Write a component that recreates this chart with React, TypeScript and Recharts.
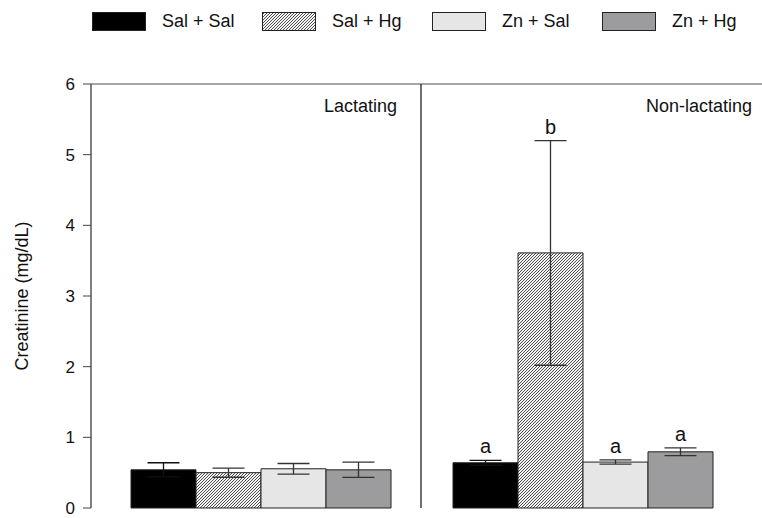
import React from "react";
import {
  BarChart,
  Bar,
  XAxis,
  YAxis,
  ErrorBar,
  LabelList,
  ReferenceLine,
} from "recharts";

const groups = ["Lactating", "Non-lactating"];
const seriesNames = ["Sal + Sal", "Sal + Hg", "Zn + Sal", "Zn + Hg"];

// mean creatinine (mg/dL) per group, with SEM
const salSalMean = [0.54, 0.64];
const salSalSem = [0.1, 0.035];
const salHgMean = [0.5, 3.61];
const salHgSem = [0.065, 1.59];
const znSalMean = [0.555, 0.65];
const znSalSem = [0.075, 0.03];
const znHgMean = [0.54, 0.795];
const znHgSem = [0.108, 0.055];

// significance letters (non-lactating only)
const salSalLetters = ["", "a"];
const salHgLetters = ["", "b"];
const znSalLetters = ["", "a"];
const znHgLetters = ["", "a"];

const yTicks = [0, 1, 2, 3, 4, 5, 6];

const FONT = "'Liberation Sans', Arial, sans-serif";

const data = groups.map((g, i) => ({
  group: g,
  idx: i,
  salSal: salSalMean[i],
  salSalErr: salSalSem[i],
  salHg: salHgMean[i],
  salHgErr: salHgSem[i],
  znSal: znSalMean[i],
  znSalErr: znSalSem[i],
  znHg: znHgMean[i],
  znHgErr: znHgSem[i],
}));

const series = [
  { key: "salSal", fill: "#000000", err: salSalSem, letters: salSalLetters, errColor: "#111" },
  { key: "salHg", fill: "url(#hatch)", err: salHgSem, letters: salHgLetters, errColor: "#333" },
  { key: "znSal", fill: "#e6e6e6", err: znSalSem, letters: znSalLetters, errColor: "#333" },
  { key: "znHg", fill: "#9c9b9d", err: znHgSem, letters: znHgLetters, errColor: "#333" },
];

// letter sits just above the upper error cap
function letterLabel(err: number[], letters: string[]) {
  return (props: any) => {
    const vb = props.viewBox || props;
    const x = vb.x ?? props.x;
    const y = vb.y ?? props.y;
    const w = vb.width ?? props.width;
    const h = vb.height ?? props.height;
    const index = props.index;
    const value = Number(props.value);
    const txt = letters[index];
    if (!txt || !value) return null;
    const perUnit = Math.abs(h) / value;
    const top = y - err[index] * perUnit;
    return (
      <text
        x={x + w / 2}
        y={top - 7}
        textAnchor="middle"
        fontFamily={FONT}
        fontSize={20}
        fill="#111"
      >
        {txt}
      </text>
    );
  };
}

function HatchPattern({ id }: { id: string }) {
  return (
    <pattern id={id} width="3" height="3" patternUnits="userSpaceOnUse">
      <rect width="3" height="3" fill="#f4f4f4" />
      <path
        d="M-0.75,0.75 l1.5,-1.5 M0,3 l3,-3 M2.25,3.75 l1.5,-1.5"
        stroke="#3a3a3a"
        strokeWidth={0.9}
      />
    </pattern>
  );
}

function Swatch({ fill }: { fill: string }) {
  return (
    <svg width={54} height={19} style={{ display: "block" }}>
      <defs>
        <HatchPattern id="hatchLegend" />
      </defs>
      <rect
        x={0.5}
        y={0.5}
        width={53}
        height={18}
        fill={fill === "url(#hatch)" ? "url(#hatchLegend)" : fill}
        stroke="#222"
        strokeWidth={1}
      />
    </svg>
  );
}

export default function App() {
  return (
    <div
      style={{
        position: "absolute",
        left: 0,
        top: 0,
        width: 762,
        height: 518,
        background: "#fff",
        fontFamily: FONT,
      }}
    >
      {/* legend */}
      <div style={{ position: "absolute", left: 92, top: 11, display: "flex" }}>
        {seriesNames.map((name, i) => (
          <div
            key={name}
            style={{ width: 170, display: "flex", alignItems: "center", gap: 16 }}
          >
            <Swatch fill={series[i].fill} />
            <span style={{ fontSize: 18, color: "#111" }}>{name}</span>
          </div>
        ))}
      </div>

      {/* group titles */}
      <div style={{ position: "absolute", right: 365, top: 96, fontSize: 18, color: "#111" }}>
        {groups[0]}
      </div>
      <div style={{ position: "absolute", right: 10, top: 96, fontSize: 18, color: "#111" }}>
        {groups[1]}
      </div>

      <BarChart
        width={762}
        height={518}
        data={data}
        margin={{ top: 84, right: 0, bottom: 10, left: 0 }}
        barCategoryGap={32}
        barGap={0}
        style={{ position: "absolute", left: 0, top: 0 }}
      >
        <defs>
          <HatchPattern id="hatch" />
        </defs>
        <XAxis
          dataKey="group"
          height={0}
          tick={false}
          tickLine={false}
          axisLine={{ stroke: "#111", strokeWidth: 1.5 }}
          padding={{ left: 8, right: 19 }}
        />
        <XAxis
          xAxisId="div"
          type="number"
          dataKey="idx"
          domain={[0, 2]}
          hide
          padding={{ left: 8, right: 19 }}
        />
        <YAxis
          width={91}
          domain={[0, 6]}
          ticks={yTicks}
          interval={0}
          tickSize={8}
          tickMargin={8}
          tick={{ fill: "#111", fontSize: 17, fontFamily: FONT }}
          tickLine={{ stroke: "#444" }}
          axisLine={{ stroke: "#555", strokeWidth: 1.5 }}
          label={{
            value: "Creatinine (mg/dL)",
            angle: -90,
            position: "insideLeft",
            offset: 22,
            style: { textAnchor: "middle", fill: "#111", fontSize: 18, fontFamily: FONT },
          }}
        />
        <ReferenceLine y={6} stroke="#888" strokeWidth={1.5} />
        <ReferenceLine xAxisId="div" x={1} stroke="#222" strokeWidth={1.3} />
        {series.map((s) => (
          <Bar
            key={s.key}
            dataKey={s.key}
            fill={s.fill}
            stroke="#222"
            strokeWidth={1}
            isAnimationActive={false}
          >
            <ErrorBar
              dataKey={`${s.key}Err`}
              width={16}
              stroke={s.errColor}
              strokeWidth={1.3}
              direction="y"
            />
            <LabelList dataKey={s.key} content={letterLabel(s.err, s.letters)} />
          </Bar>
        ))}
      </BarChart>
    </div>
  );
}
